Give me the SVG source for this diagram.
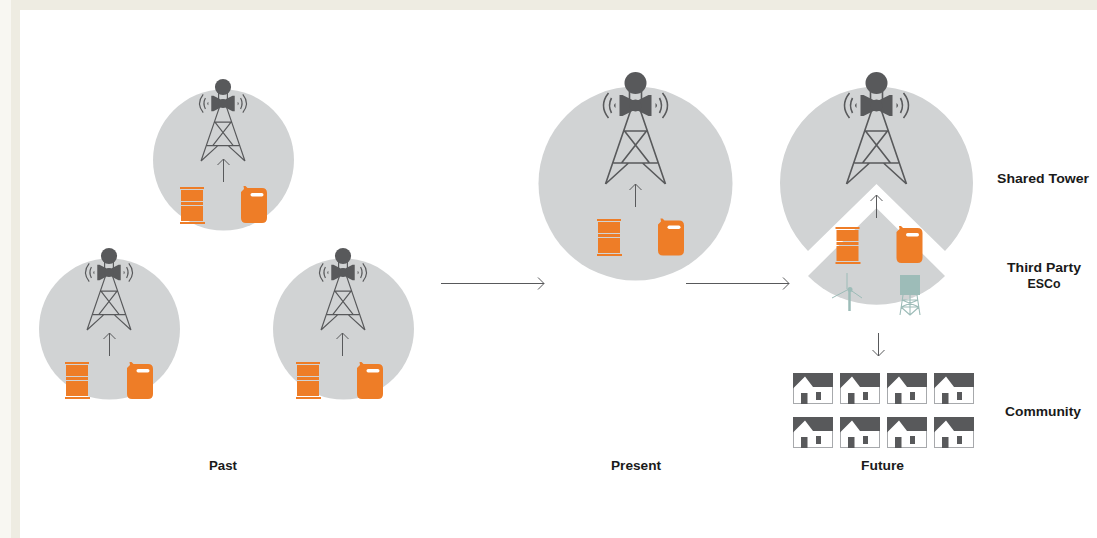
<svg xmlns="http://www.w3.org/2000/svg" width="1097" height="538" viewBox="0 0 1097 538">
<style>
.disc{fill:#d1d3d4}
.ln{fill:none;stroke:#58595b;stroke-width:1}
.tw{fill:none;stroke:#58595b;stroke-width:1.6}
.dk{fill:#58595b}
.or{fill:#ee7d27}
.wh{fill:#fff}
.tl{fill:#9dbcb8}
.tls{fill:none;stroke:#9dbcb8}
.lb{font-family:"Liberation Sans","Open Sans",sans-serif;font-weight:700;font-size:13.5px;fill:#1a1a1a;text-anchor:middle}
</style>
<defs>
<g id="tower">
<path class="tw" d="M-6 8 V24 M6 8 V24 M-4 25 L-30 101 M4 25 L30 101 M-11 48 H11 M-22 80 H22 M-11 48 L14 80 M11 48 L-14 80 M-7 80 L-30 101 M7 80 L30 101"/>
<circle class="dk" cx="0" cy="0" r="11"/>
<path class="dk" d="M-16 12 H-13 L-3 17 H3 L13 12 H16 V33 H13 L3 28 H-3 L-13 33 H-16Z"/>
<circle class="dk" cx="0" cy="22.500" r="6"/>
<path class="tw" d="M-24 15 Q-28 22.500 -24 30 M-27 10 Q-37 22.500 -27 35 M24 15 Q28 22.500 24 30 M27 10 Q37 22.500 27 35"/>
<path class="dk" d="M-20 20 Q-23 22.500 -20 25 Z M20 20 Q23 22.500 20 25 Z"/>
</g>
<g id="barrel">
<rect class="or" x="0" y="0" width="24" height="2"/>
<rect class="or" x="1" y="3" width="22" height="11"/>
<rect class="or" x="1" y="15" width="22" height="3"/>
<rect class="or" x="1" y="19" width="22" height="15"/>
<rect class="or" x="0" y="35" width="25" height="2"/>
</g>
<g id="can">
<path class="or" d="M0 6 L3 3 L2.500 0 L4.500 0 L6.500 2 H21 Q26 2 26 7 V32 Q26 37 21 37 H5 Q0 37 0 32Z"/>
<rect class="wh" x="9.500" y="7" width="13" height="3.500" rx="1.700"/>
</g>
<g id="house">
<rect x="0.500" y="0.500" width="39" height="30" fill="#fff" stroke="#a7a9ac"/>
<path class="dk" d="M0 0 H40 V14 H20 L12 3.500 L0 15.500Z"/>
<rect class="dk" x="8" y="20" width="6.500" height="11"/>
<rect class="dk" x="23" y="19" width="5" height="8"/>
</g>
<g id="arrowUp"><path class="ln" d="M0 23 V0 M-6 6 L0 0 L6 6"/></g>
</defs>
<rect width="1097" height="538" fill="#eeece2"/>
<rect width="11" height="538" fill="#f8f7f2"/>
<rect x="20" y="10" width="1077" height="528" fill="#fff"/>

<g id="past-top">
<circle class="disc" cx="223.500" cy="160" r="70.500"/>
<use href="#tower" transform="translate(223 87) scale(.733)"/>
<use href="#barrel" x="180" y="187"/>
<use href="#can" x="241" y="186"/>
</g>
<g id="past-left">
<circle class="disc" cx="109.500" cy="329" r="70.500"/>
<use href="#tower" transform="translate(109 256) scale(.733)"/>
<use href="#barrel" x="65" y="362"/>
<use href="#can" x="127" y="362"/>
</g>
<g id="past-right">
<circle class="disc" cx="343.500" cy="329" r="70.500"/>
<use href="#tower" transform="translate(343 256) scale(.733)"/>
<use href="#barrel" x="296" y="362"/>
<use href="#can" x="357" y="362"/>
</g>
<g id="present">
<circle class="disc" cx="635.500" cy="183.500" r="97"/>
<use href="#tower" x="635.500" y="83"/>
<use href="#barrel" x="597" y="219"/>
<use href="#can" x="658" y="218.500"/>
</g>
<g id="future-tower">
<path class="disc" d="M876.500 184 L945 251 A96.500 96.500 0 1 0 808 251Z"/>
<use href="#tower" x="876.500" y="83"/>
</g>
<g id="future-esco">
<path class="disc" d="M876.500 208 L945 276 A96 96 0 0 1 808 276Z"/>
<use href="#barrel" x="835.500" y="227"/>
<use href="#can" x="896.500" y="226"/>
<g id="turbine">
<path class="tls" d="M847 273 V289" stroke-width="1"/>
<path class="tls" d="M849 289 L832 298 M849 289 L862 298" stroke-width="1"/>
<circle class="tl" cx="850" cy="289.500" r="2.500"/>
<path class="tls" d="M849.500 290 V311" stroke-width="2.500"/>
</g>
<g id="water-tower">
<rect class="tl" x="900" y="275" width="20" height="20"/>
<path class="tls" stroke-width="1.100" d="M903 295 L900 315 M917 295 L920 315 M910 295 V315 M902 300 H918 M901 307 H919 M902 300 L919 307 M918 300 L901 307 M901 307 L910 315 M919 307 L910 315"/>
</g>
</g>
<g id="community">
<use href="#house" x="793" y="373"/><use href="#house" x="840" y="373"/><use href="#house" x="887" y="373"/><use href="#house" x="934" y="373"/>
<use href="#house" x="793" y="417"/><use href="#house" x="840" y="417"/><use href="#house" x="887" y="417"/><use href="#house" x="934" y="417"/>
</g>
<g id="connectors">
<use href="#arrowUp" x="223.500" y="159"/>
<use href="#arrowUp" x="109.500" y="333"/>
<use href="#arrowUp" x="342.500" y="333"/>
<use href="#arrowUp" x="635.500" y="184"/>
<use href="#arrowUp" x="876.500" y="195"/>
<path class="ln" d="M878.500 333 V356 M872.500 350 L878.500 356 L884.500 350"/>
<path class="ln" d="M441 283.500 H544 M538 277.500 L544 283.500 L538 289.500"/>
<path class="ln" d="M686 283.500 H789 M783 277.500 L789 283.500 L783 289.500"/>
</g>
<g id="labels">
<text class="lb" x="223" y="470" textLength="28" lengthAdjust="spacingAndGlyphs">Past</text>
<text class="lb" x="636" y="470" textLength="50" lengthAdjust="spacingAndGlyphs">Present</text>
<text class="lb" x="882.500" y="470" textLength="43" lengthAdjust="spacingAndGlyphs">Future</text>
<text class="lb" x="1043" y="183" textLength="92" lengthAdjust="spacingAndGlyphs">Shared Tower</text>
<text class="lb" x="1044" y="272" textLength="74" lengthAdjust="spacingAndGlyphs">Third Party</text>
<text class="lb" x="1044" y="288" textLength="33" lengthAdjust="spacingAndGlyphs">ESCo</text>
<text class="lb" x="1043" y="416" textLength="76" lengthAdjust="spacingAndGlyphs">Community</text>
</g>
</svg>
